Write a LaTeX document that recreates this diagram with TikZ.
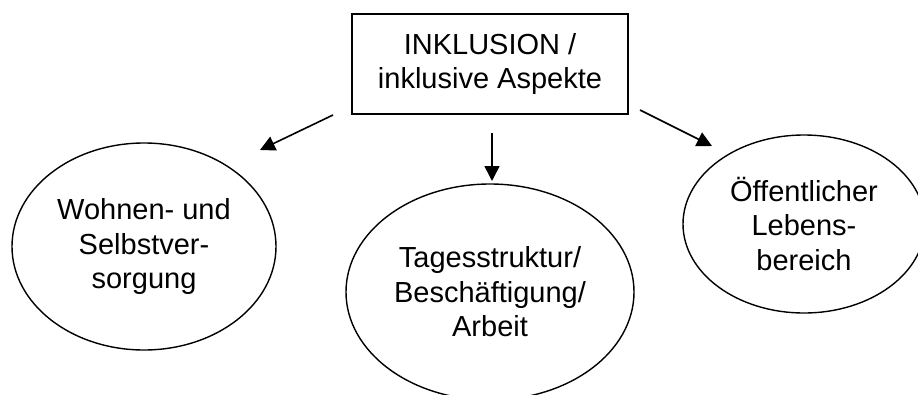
\documentclass[tikz,border=0pt]{standalone}
\usepackage{fontspec}
\setmainfont{Liberation Sans}
\usetikzlibrary{shapes.geometric,arrows.meta}
\begin{document}
\begin{tikzpicture}[x=1pt,y=-1pt,
  lbl/.style={font=\fontsize{29}{34.5}\selectfont, align=center, line width=1.4pt, draw=black, inner sep=0pt},
  topbox/.style={lbl, rectangle, minimum width=276pt, minimum height=100pt},
  oval/.style={lbl, ellipse},
  arr/.style={line width=1.6pt, -{Triangle[length=15pt,width=15pt]}}]
\clip (0,0) rectangle (918,394);
\fill[white] (0,0) rectangle (918,394);
\node[topbox] (top) at (490,64) {INKLUSION /\\inklusive Aspekte};
\node[oval, minimum width=264pt, minimum height=207pt] (wohnen) at (144,246.5) {Wohnen- und\\Selbstver-\\sorgung};
\node[oval, minimum width=288pt, minimum height=216pt] (tag) at (490,292) {Tagesstruktur/\\Besch\"aftigung/\\Arbeit};
\node[oval, minimum width=242pt, minimum height=178pt] (oeff) at (804,224) {\"Offentlicher\\Lebens-\\bereich};
\coordinate (a1s) at (333,115);
\coordinate (a1e) at (260,150);
\coordinate (a2s) at (492,133);
\coordinate (a2e) at (492,181);
\coordinate (a3s) at (640,110);
\coordinate (a3e) at (712,146);
\draw[arr] (a1s) -- (a1e);
\draw[arr] (a2s) -- (a2e);
\draw[arr] (a3s) -- (a3e);
\end{tikzpicture}
\end{document}
